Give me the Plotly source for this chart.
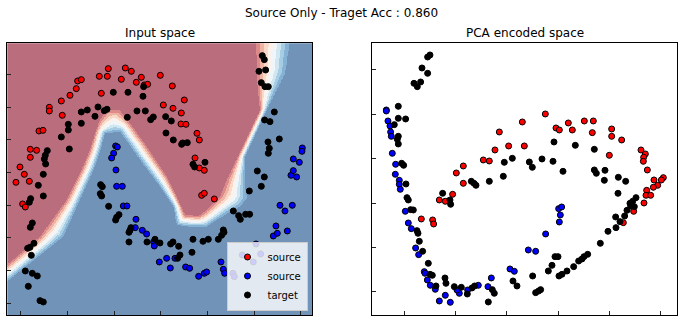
import numpy as np
import plotly.graph_objects as go

# ---------------- Input space (left panel) ----------------
in_red_x = [-0.09, 0.165, 0.255, -0.225, -0.105, 0.105, 0.405, 0.33, 0.45, 0.50, 0.69, 0.87,
            -0.55, -0.495, -0.57, -0.665, -0.795, -0.975, -0.975, -0.78, -1.13, -1.07, -1.26,
            -1.165, -1.26, -1.415, -1.35, -1.475, -1.275, -1.375, -1.335, -0.195, 0.735, 0.88,
            1.005, 1.05, 1.00, 1.075, 1.24, 1.275, 1.21, 1.275, 1.35, 1.31, 1.35, 1.50]
in_red_y = [2.54, 2.55, 2.50, 2.425, 2.425, 2.38, 2.41, 2.335, 2.295, 2.305, 2.44, 2.28,
            2.355, 2.375, 2.24, 2.14, 2.055, 1.96, 1.905, 1.84, 1.605, 1.615, 1.33,
            1.315, 1.21, 1.065, 0.955, 0.835, 0.85, 0.51, 0.465, 2.17, 1.995, 1.945,
            1.875, 2.07, 1.71, 1.705, 1.57, 1.47, 1.20, 1.05, 1.015, 0.64, 0.67, 0.585]

in_blue_x = [0.02, 0.045, -0.01, -0.04, 0.025, 0.035, 0.12, 0.135, 0.19, 0.325, 0.315, 0.42,
             0.485, 0.59, 0.60, 0.675, 0.785, 0.84, 0.91, 1.07, 1.13, 1.265, 1.35, 1.385,
             1.60, 1.635, 1.655, 1.78, 1.80, 1.92, 2.085, 2.125, 2.195, 2.385, 2.425, 2.445,
             2.595, 2.56, 2.67, 2.485, 2.65, 2.735, 2.685, 2.685, 2.775, 2.82, 2.815]
in_blue_y = [1.38, 1.365, 1.27, 1.20, 1.02, 0.775, 0.775, 0.48, 0.48, 0.28, 0.155, 0.115,
             0.06, -0.06, -0.12, -0.36, -0.305, -0.45, -0.305, -0.435, -0.455, -0.575, -0.53, -0.51,
             -0.36, -0.47, -0.53, -0.53, -0.58, -0.255, -0.36, -0.09, -0.24, 0.03, 0.18, 0.07,
             0.105, 0.405, 0.49, 0.49, 0.94, 0.915, 1.01, 1.185, 1.135, 1.35, 1.30]

in_tgt_x = [2.22, 2.25, 2.17, 2.27, 2.205, 2.26, 2.31, 2.40, 2.255, 2.335, 2.475, 2.305, 2.325,
            2.31, 2.145, 2.25, 2.205, 2.025, 1.785, 1.865, 1.89, 1.97, 2.03, 1.635, 1.645, 1.61,
            1.56, 1.41, 1.33, 1.18, 1.165, 0.985, 0.95, 0.965, 0.88, 0.845, 0.685, 0.61, 0.49,
            0.22, 0.235, 0.22, 0.25, 0.02, 0.035, 0.07, -0.085, -0.205, -0.18, -0.21, -0.19,
            -0.015, 0.205, 0.44, 0.43, 0.34, 0.465, 0.195, 0.585, 0.545, 0.77, 0.855, 0.775,
            0.885, 1.01, 1.025, 1.095, 1.18, 1.205, 1.36, -0.245, -0.15, -0.11, -0.405, -0.495,
            -0.495, -0.69, -0.69, -0.795, -0.675, -0.29, -1.005, -1.035, -1.05, -1.03, -1.065,
            -1.14, -1.065, -1.255, -1.275, -1.23, -1.26, -1.205, -1.265, -1.30, -1.245, -1.335,
            -1.23, -1.155, -1.29, -1.115, -1.065]
in_tgt_y = [2.735, 2.675, 2.50, 2.52, 2.33, 2.27, 2.27, 1.89, 1.77, 1.745, 1.485, 1.44, 1.345,
            1.27, 1.005, 0.915, 0.775, 0.705, 0.405, 0.335, 0.28, 0.355, 0.355, 0.12, 0.085, 0.04,
            -0.02, -0.02, -0.05, -0.02, -0.215, -0.255, -0.305, -0.125, -0.06, -0.09, -0.075, -0.02, -0.06,
            -0.06, 0.115, 0.085, 0.155, 0.27, 0.31, 0.35, 0.475, 0.80, 0.77, 0.665, 0.63,
            2.185, 2.185, 2.27, 2.125, 1.905, 1.905, 1.81, 1.815, 1.775, 1.82, 1.755, 1.575,
            1.47, 1.405, 1.425, 1.43, 1.105, 1.065, 1.135, 1.965, 1.91, 1.93, 1.92, 1.89,
            1.72, 1.705, 1.62, 1.515, 1.335, 1.825, 1.31, 1.24, 1.185, 1.11, 0.955,
            0.79, 0.63, 0.59, 0.535, 0.225, 0.16, -0.08, -0.14, -0.155, -0.26, -0.495,
            -0.53, -0.57, -0.725, -0.94, -0.96]

# decision boundary: outer edge of the red plateau and of the blue plateau
red_edge_x = [-1.715, -1.61, -1.115, -0.715, -0.49, -0.365, -0.29, -0.215, -0.105, 0.075, 0.235,
              0.385, 0.535, 0.785, 0.935, 1.06, 1.26, 1.385, 1.585, 1.685, 2.185, 2.16, 2.135, 2.125, 2.12]
red_edge_y = [-0.495, -0.405, 0.02, 0.57, 1.02, 1.32, 1.57, 1.77, 1.92, 1.92, 1.72,
              1.51, 1.295, 0.92, 0.62, 0.345, 0.33, 0.42, 0.62, 0.87, 1.92, 2.12, 2.47, 2.92, 3.12]
blue_edge_x = [-1.715, -1.61, -0.765, -0.29, -0.205, -0.14, 0.085, 0.385, 0.685, 0.885, 0.935,
               1.135, 1.385, 1.535, 1.735, 1.885, 1.985, 1.96, 1.96, 2.285, 2.385, 2.56, 2.625, 2.635]
blue_edge_y = [-0.755, -0.655, 0.02, 1.07, 1.32, 1.57, 1.595, 1.17, 0.77, 0.47, 0.195,
               0.17, 0.17, 0.27, 0.395, 0.47, 0.595, 0.77, 1.22, 1.92, 2.12, 2.47, 2.92, 3.12]

band_colors = ['rgb(186,109,124)', 'rgb(220,138,138)', 'rgb(239,180,164)', 'rgb(251,217,201)',
               'rgb(252,242,236)', 'rgb(239,245,248)', 'rgb(208,230,241)', 'rgb(166,205,227)',
               'rgb(132,177,212)', 'rgb(113,147,183)']

in_xticks = [-1.4, -0.7, 0.0, 0.7, 1.4, 2.1, 2.8]
in_yticks = [-0.98, -0.49, 0.0, 0.49, 0.98, 1.47, 1.96, 2.45]
in_xrange = [-1.605, 2.97]
in_yrange = [-1.16, 2.92]

# ---------------- PCA encoded space (right panel) ----------------
pca_red_x = [0.575, 0.23, -0.115, -0.18, 0.025, 0.26, 0.735, 0.785, 0.92, 0.98, 1.16, 1.295, 1.28,
             1.57, 1.57, 1.72, 1.535, 2.01, 2.075, 2.05, 2.045, 2.105, 2.205, 2.345, 2.315, 2.26,
             2.195, 2.095, 2.085, 2.155, 2.055, 1.90, 1.745, -0.355, -0.265, -0.655, -0.76, -0.655,
             -0.815, -1.015, -0.925, -1.115, -1.10, -1.285]
pca_red_y = [1.34, 1.22, 1.07, 0.80, 0.86, 0.86, 1.13, 1.10, 1.205, 1.10, 1.235, 1.235, 1.06,
             1.115, 1.005, 0.95, 0.72, 0.80, 0.74, 0.69, 0.63, 0.50, 0.35, 0.385, 0.35, 0.27,
             0.24, 0.195, 0.12, 0.12, 0.005, -0.12, -0.29, 0.65, 0.635, 0.56, 0.455, 0.30,
             0.135, 0.05, 0.03, -0.25, -0.31, -0.235]

pca_blue_x = [-1.81, -1.81, -1.785, -1.755, -1.745, -1.735, -1.72, -1.67, -1.675, -1.615, -1.615,
              -1.60, -1.525, -1.48, -1.435, -1.37, -1.325, -1.24, -1.23, -1.195, -1.15, -1.075,
              -1.015, -0.925, -0.85, -0.715, -0.75, -0.59, -0.43, -0.285, -0.235, 0.045, 0.11,
              0.32, 0.43, 0.58, 0.785, 0.80, 0.775, 0.82]
pca_blue_y = [1.40, 1.385, 1.235, 1.16, 1.07, 1.005, 0.75, 0.585, 0.435, 0.345, 0.285,
              0.21, -0.12, -0.295, -0.38, -0.67, -0.77, -1.025, -1.05, -1.15, -1.23, -1.29,
              -1.465, -1.38, -1.485, -1.35, -1.30, -1.30, -1.23, -1.25, -1.12, -0.985, -1.02,
              -0.70, -0.72, -0.46, -0.28, -0.175, -0.08, -0.055]

pca_tgt_x = [-1.155, -1.19, -1.275, -1.19, -1.395, -1.345, -1.295, -1.63, -1.52, -1.63, -1.69,
             -1.63, -1.63, -1.645, -1.58, -1.55, -1.515, -1.50, -1.48, -1.445, -1.405, -1.35,
             -1.335, -1.315, -1.265, -1.18, -1.155, -1.12, -1.065, -0.93, -0.915, -0.79, -0.685,
             -0.595, -0.525, -0.485, -0.28, -0.22, -0.19, 0.09, 0.15, 0.385, 0.43, 0.475, 0.505,
             0.62, 0.675, 0.72, 0.765, 0.78, 0.825, 0.90, 1.00, 1.075, 1.125, 1.155, 1.21, 1.40,
             1.515, 1.63, 1.635, 1.695, 1.765, 1.80, 1.845, 1.885, 1.935, 1.855, 1.91, 1.665,
             1.78, 1.67, 1.47, 1.46, 1.34, 1.31, 1.31, 1.025, 0.84, 0.705, 0.69, 0.525, 0.335,
             0.38, 0.08, -0.04, -0.055, -0.265, -0.465, -0.495, -0.535, -0.845, -0.855, -0.965]
pca_tgt_y = [2.225, 2.195, 2.03, 1.95, 1.80, 1.75, 1.82, 1.455, 1.265, 1.275, 1.18,
             1.005, 0.89, 0.96, 0.60, 0.57, 0.29, 0.085, 0.05, -0.095, -0.10, -0.41,
             -0.45, -0.57, -0.72, -0.90, -1.065, -1.08, -1.24, -1.12, -1.20, -1.25, -1.26,
             -1.36, -1.27, -1.24, -1.48, -1.295, -1.35, -1.165, -1.24, -1.09, -1.34, -1.315, -1.295,
             -1.015, -0.93, -0.80, -0.80, -1.09, -1.065, -1.015, -0.95, -0.865, -0.835, -0.80, -0.765, -0.60,
             -0.42, -0.205, -0.365, -0.275, -0.19, -0.105, 0.0, 0.03, 0.085, -0.04, -0.05, 0.15,
             0.33, 0.39, 0.495, 0.345, 0.45, 0.50, 0.81, 0.87, 0.48, 0.92, 0.63, 0.665, 0.62,
             0.54, 0.675, 0.615, 0.405, 0.33, 0.27, 0.30, 0.33, -0.015, 0.05, 0.15]

pca_xticks = [-1.535, -0.7675, 0.0, 0.7675, 1.535, 2.3025]
pca_yticks = [-1.32, -0.66, 0.0, 0.665, 1.335, 2.0]
pca_xrange = [-2.02, 2.55]
pca_yrange = [-1.68, 2.40]

title_text = "Source Only - Traget Acc : 0.860"
left_title = "Input space"
right_title = "PCA encoded space"


# ---------------- decision surface field ----------------
def dist_to_polyline(px, py, xs, ys):
    d = np.full(px.shape, np.inf)
    for i in range(len(xs) - 1):
        ax, ay, bx, by = xs[i], ys[i], xs[i + 1], ys[i + 1]
        dx, dy = bx - ax, by - ay
        l2 = dx * dx + dy * dy
        t = np.clip(((px - ax) * dx + (py - ay) * dy) / l2, 0, 1)
        d = np.minimum(d, np.hypot(px - (ax + t * dx), py - (ay + t * dy)))
    return d


def inside_polygon(px, py, xs, ys):
    res = np.zeros(px.shape, bool)
    n = len(xs)
    j = n - 1
    for i in range(n):
        xi, yi, xj, yj = xs[i], ys[i], xs[j], ys[j]
        if yi != yj:
            cond = (yi > py) != (yj > py)
            xint = (xj - xi) * (py - yi) / (yj - yi) + xi
            res ^= cond & (px < xint)
        j = i
    return res


gx = np.arange(in_xrange[0] - 0.01, in_xrange[1] + 0.015, 0.006)
gy = np.arange(in_yrange[0] - 0.01, in_yrange[1] + 0.015, 0.006)
PX, PY = np.meshgrid(gx, gy)

red_poly_x = red_edge_x + [red_edge_x[0]]
red_poly_y = red_edge_y + [red_edge_y[-1]]
blue_poly_x = blue_edge_x + [3.3, 3.3, blue_edge_x[0]]
blue_poly_y = blue_edge_y + [blue_edge_y[-1], -1.5, -1.5]

in_red = inside_polygon(PX, PY, red_poly_x, red_poly_y)
in_blue = inside_polygon(PX, PY, blue_poly_x, blue_poly_y)
dr = dist_to_polyline(PX, PY, red_edge_x, red_edge_y)
db = dist_to_polyline(PX, PY, blue_edge_x, blue_edge_y)
frac = dr / (dr + db + 1e-12)
band = 1 + np.clip(np.floor(frac * 8), 0, 7)
band = np.where(in_blue, 9, band)
band = np.where(in_red, 0, band)

nb = len(band_colors)
colorscale = []
for k, c in enumerate(band_colors):
    colorscale.append([k / nb, c])
    colorscale.append([(k + 1) / nb, c])

FONT = "DejaVu Sans"
W, H = 683, 322

fig = go.Figure()
fig.add_trace(go.Heatmap(x=gx, y=gy, z=band, colorscale=colorscale, zmin=-0.5, zmax=nb - 0.5,
                         zsmooth=False, showscale=False, hoverinfo="skip", xaxis="x", yaxis="y"))

mk = dict(size=6, line=dict(color="black", width=1))
fig.add_trace(go.Scatter(x=in_red_x, y=in_red_y, mode="markers", name="source",
                         marker=dict(color="red", **mk), xaxis="x", yaxis="y"))
fig.add_trace(go.Scatter(x=in_blue_x, y=in_blue_y, mode="markers", name="source",
                         marker=dict(color="blue", **mk), xaxis="x", yaxis="y"))
fig.add_trace(go.Scatter(x=in_tgt_x, y=in_tgt_y, mode="markers", name="target",
                         marker=dict(color="black", **mk), xaxis="x", yaxis="y"))

fig.add_trace(go.Scatter(x=pca_red_x, y=pca_red_y, mode="markers", showlegend=False,
                         marker=dict(color="red", **mk), xaxis="x2", yaxis="y2"))
fig.add_trace(go.Scatter(x=pca_blue_x, y=pca_blue_y, mode="markers", showlegend=False,
                         marker=dict(color="blue", **mk), xaxis="x2", yaxis="y2"))
fig.add_trace(go.Scatter(x=pca_tgt_x, y=pca_tgt_y, mode="markers", showlegend=False,
                         marker=dict(color="black", **mk), xaxis="x2", yaxis="y2"))

ax_common = dict(showgrid=False, zeroline=False, showticklabels=False, ticks="inside",
                 ticklen=4, tickwidth=1, tickcolor="#222", showline=True, linecolor="black",
                 linewidth=1, mirror=True)

left_dom = [7.3 / W, 312.3 / W]
right_dom = [372.3 / W, 677.0 / W]
y_dom = [1 - 315.3 / H, 1 - 43.3 / H]

fig.update_layout(
    width=W, height=H,
    margin=dict(l=0, r=0, t=0, b=0),
    paper_bgcolor="white", plot_bgcolor="white",
    font=dict(family=FONT, color="black"),
    xaxis=dict(domain=left_dom, range=in_xrange, tickvals=in_xticks, anchor="y", **ax_common),
    yaxis=dict(domain=y_dom, range=in_yrange, tickvals=in_yticks, anchor="x", **ax_common),
    xaxis2=dict(domain=right_dom, range=pca_xrange, tickvals=pca_xticks, anchor="y2", **ax_common),
    yaxis2=dict(domain=y_dom, range=pca_yrange, tickvals=pca_yticks, anchor="x2", **ax_common),
    legend=dict(x=307.5 / W, y=1 - 310.5 / H, xanchor="right", yanchor="bottom",
                bgcolor="rgba(255,255,255,0.8)", bordercolor="#cccccc", borderwidth=1,
                font=dict(family=FONT, size=10, color="black"), tracegroupgap=0),
    annotations=[
        dict(text=title_text, x=0.5, y=1 - 13 / H, xref="paper", yref="paper",
             showarrow=False, font=dict(family=FONT, size=12), xanchor="center", yanchor="middle"),
        dict(text=left_title, x=(left_dom[0] + left_dom[1]) / 2, y=1 - 33 / H, xref="paper",
             yref="paper", showarrow=False, font=dict(family=FONT, size=12),
             xanchor="center", yanchor="middle"),
        dict(text=right_title, x=(right_dom[0] + right_dom[1]) / 2, y=1 - 33 / H, xref="paper",
             yref="paper", showarrow=False, font=dict(family=FONT, size=12),
             xanchor="center", yanchor="middle"),
    ],
)

fig.write_html("out.html")
